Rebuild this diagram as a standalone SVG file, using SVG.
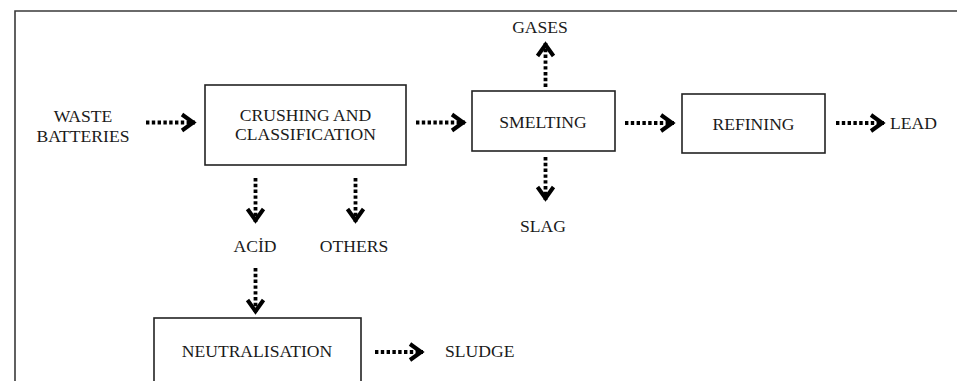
<svg xmlns="http://www.w3.org/2000/svg" width="957" height="381" viewBox="0 0 957 381">
<style>
.frame{fill:none;stroke:#3a3a3a;stroke-width:1.6}
.box{fill:#fff;stroke:#222;stroke-width:1.6}
.t{font-family:"Liberation Serif","Times New Roman",serif;font-size:17.6px;fill:#1a1a1a}
.c{text-anchor:middle}
.flow{fill:none;stroke:#000;stroke-width:3.8;stroke-dasharray:3.4 2.4}
.head{fill:none;stroke:#000;stroke-width:4;stroke-linejoin:miter;stroke-linecap:butt}
</style>
<defs>
<marker id="chev" markerUnits="userSpaceOnUse" markerWidth="24" markerHeight="24" viewBox="-18 -12 24 24" refX="0" refY="0" orient="auto">
<path class="head" d="M-13,-8 L-1.8,0 L-13,8"/>
</marker>
</defs>
<rect width="957" height="381" fill="#fff"/>
<path class="frame" d="M15,381 L15,11 L957,11"/>

<g id="connectors">
<path class="flow" d="M146,122.5 L195,122.5" marker-end="url(#chev)"/>
<path class="flow" d="M416,122.5 L465,122.5" marker-end="url(#chev)"/>
<path class="flow" d="M625,123 L674,123" marker-end="url(#chev)"/>
<path class="flow" d="M836,123 L884,123" marker-end="url(#chev)"/>
<path class="flow" d="M545.5,87 L545.5,43" marker-end="url(#chev)"/>
<path class="flow" d="M545.5,157 L545.5,200" marker-end="url(#chev)"/>
<path class="flow" d="M255.5,178 L255.5,222" marker-end="url(#chev)"/>
<path class="flow" d="M355.5,178 L355.5,222" marker-end="url(#chev)"/>
<path class="flow" d="M255.5,268 L255.5,313" marker-end="url(#chev)"/>
<path class="flow" d="M375,352 L423,352" marker-end="url(#chev)"/>
</g>

<g id="waste">
<text class="t c" x="83" y="122">WASTE</text>
<text class="t c" x="83" y="142">BATTERIES</text>
</g>
<g id="crushing">
<rect class="box" x="205" y="85" width="201" height="80"/>
<text class="t c" x="305.5" y="121">CRUSHING AND</text>
<text class="t c" x="305.5" y="140">CLASSIFICATION</text>
</g>
<g id="smelting">
<rect class="box" x="472" y="91" width="143" height="60"/>
<text class="t c" x="543" y="128">SMELTING</text>
</g>
<g id="refining">
<rect class="box" x="682" y="94" width="143" height="59"/>
<text class="t c" x="753.5" y="130">REFINING</text>
</g>
<g id="lead"><text class="t" x="890" y="129">LEAD</text></g>
<g id="gases"><text class="t c" x="540" y="33">GASES</text></g>
<g id="slag"><text class="t c" x="543" y="232">SLAG</text></g>
<g id="acid"><text class="t c" x="255" y="252">ACİD</text></g>
<g id="others"><text class="t c" x="354" y="252">OTHERS</text></g>
<g id="neutralisation">
<rect class="box" x="154" y="318" width="207" height="80"/>
<text class="t c" x="257" y="357">NEUTRALISATION</text>
</g>
<g id="sludge"><text class="t" x="445" y="357">SLUDGE</text></g>
</svg>
